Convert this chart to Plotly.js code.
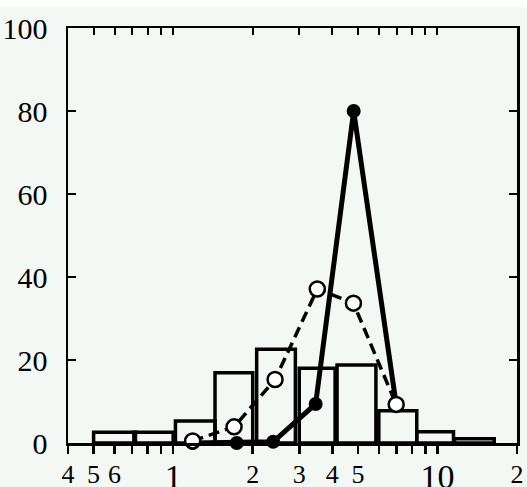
<!DOCTYPE html>
<html>
<head>
<meta charset="utf-8">
<script src="https://cdn.plot.ly/plotly-3.0.1.min.js"></script>
<style>html,body{margin:0;padding:0;background:#f4f8f4;}#chart{width:527px;height:487px;}</style>
</head>
<body>
<div id="chart"></div>
<script>
// Histogram bins
var binLeft  = [0.5, 0.71, 1.02, 1.44, 2.07, 3.0, 4.17, 6.0, 8.35, 11.6];
var binRight = [0.72, 1.0, 1.44, 2.0, 2.9, 4.1, 5.85, 8.35, 11.5, 16.4];
var binHeight = [2.6, 2.6, 5.3, 16.9, 22.6, 18.0, 18.8, 7.8, 2.7, 1.0];

// Open circles, dashed line
var openX = [1.185, 1.70, 2.43, 3.51, 4.81, 6.98];
var openY = [0.5, 3.9, 15.3, 37.1, 33.7, 9.3];

// Filled circles, solid line
var solidX = [1.185, 1.74, 2.39, 3.46, 4.82, 6.98];
var solidY = [0.0, 0.0, 0.3, 9.4, 80.0, 9.3];

// Axis ticks
var xTickVals = [0.4, 0.5, 0.6, 1, 2, 3, 4, 5, 10, 20];
var xTickText = ['4', '5', '6', '1', '2', '3', '4', '5', '10', '2'];
var xBigLabels = ['1', '10'];
var xMinorVals = [0.7, 0.8, 0.9, 6, 7, 8, 9];
var yTickVals = [0, 20, 40, 60, 80, 100];

var traces = [];
for (var i = 0; i < binLeft.length; i++) {
  traces.push({
    type: 'scatter', mode: 'lines',
    x: [binLeft[i], binLeft[i], binRight[i], binRight[i], binLeft[i]],
    y: [0, binHeight[i], binHeight[i], 0, 0],
    fill: 'toself', fillcolor: 'rgba(255,255,255,0)',
    line: {color: '#000', width: 3.5},
    hoverinfo: 'skip', showlegend: false, cliponaxis: false
  });
}
traces.push({
  type: 'scatter', mode: 'lines+markers',
  x: solidX, y: solidY,
  line: {color: '#000', width: 5},
  marker: {symbol: 'circle', size: 14, color: '#000'},
  showlegend: false, cliponaxis: false
});
traces.push({
  type: 'scatter', mode: 'lines+markers',
  x: openX, y: openY,
  line: {color: '#000', width: 3.5, dash: '11px,6px'},
  marker: {symbol: 'circle', size: 15, color: '#fff', line: {color: '#000', width: 2.5}},
  showlegend: false, cliponaxis: false
});
// carrier for top axis
traces.push({
  type: 'scatter', mode: 'markers', x: [1], y: [0], xaxis: 'x2',
  marker: {opacity: 0}, hoverinfo: 'skip', showlegend: false
});

var allX = xTickVals.concat(xMinorVals).sort(function(a,b){return a-b;});
var topTicks = [0.5, 0.6, 0.7, 0.8, 0.9, 1, 2, 3, 4, 5, 6, 7, 8, 9, 10];

function labelFor(v) {
  var k = xTickVals.indexOf(v);
  if (k < 0) return '';
  var t = xTickText[k];
  if (xBigLabels.indexOf(t) >= 0) return '<sub><span style="font-size:34px">' + t + '</span></sub>';
  return t;
}

var layout = {
  width: 527, height: 487,
  margin: {l: 68, r: 10, t: 28, b: 44},
  paper_bgcolor: '#f4f8f4', plot_bgcolor: '#f4f8f4',
  font: {family: 'Liberation Serif, Times New Roman, serif', color: '#000'},
  xaxis: {
    type: 'log', range: [Math.log10(0.4), Math.log10(20)],
    tickmode: 'array', tickvals: allX,
    ticktext: allX.map(labelFor), tickangle: 0,
    ticks: 'outside', ticklen: 8, tickwidth: 2.5, tickcolor: '#000',
    tickfont: {size: 26, family: 'Liberation Serif', color: '#000'},
    ticklabelstandoff: -2,
    showline: true, linecolor: '#000', linewidth: 2.5,
    showgrid: false, zeroline: false, fixedrange: true
  },
  xaxis2: {
    type: 'log', range: [Math.log10(0.4), Math.log10(20)],
    overlaying: 'x', side: 'top', anchor: 'y',
    tickmode: 'array', tickvals: topTicks, showticklabels: false,
    ticks: 'inside', ticklen: 7, tickwidth: 2, tickcolor: '#000',
    showline: true, linecolor: '#000', linewidth: 2.5,
    showgrid: false, zeroline: false, fixedrange: true
  },
  yaxis: {
    range: [0, 100],
    tickmode: 'array', tickvals: yTickVals,
    ticks: 'inside', ticklen: 8, tickwidth: 2.5, tickcolor: '#000',
    tickfont: {size: 30, family: 'Liberation Serif', color: '#000'},
    ticklabelstandoff: 12,
    showline: true, linecolor: '#000', linewidth: 2.5, mirror: 'ticks',
    showgrid: false, zeroline: false, fixedrange: true
  },
  shapes: [
    {type: 'rect', xref: 'paper', yref: 'paper', x0: -0.2, x1: 1.2, y0: 1.05, y1: 1.2,
     fillcolor: '#ffffff', line: {width: 0}, layer: 'below'}
  ]
};

Plotly.newPlot('chart', traces, layout, {staticPlot: true});
</script>
</body>
</html>
